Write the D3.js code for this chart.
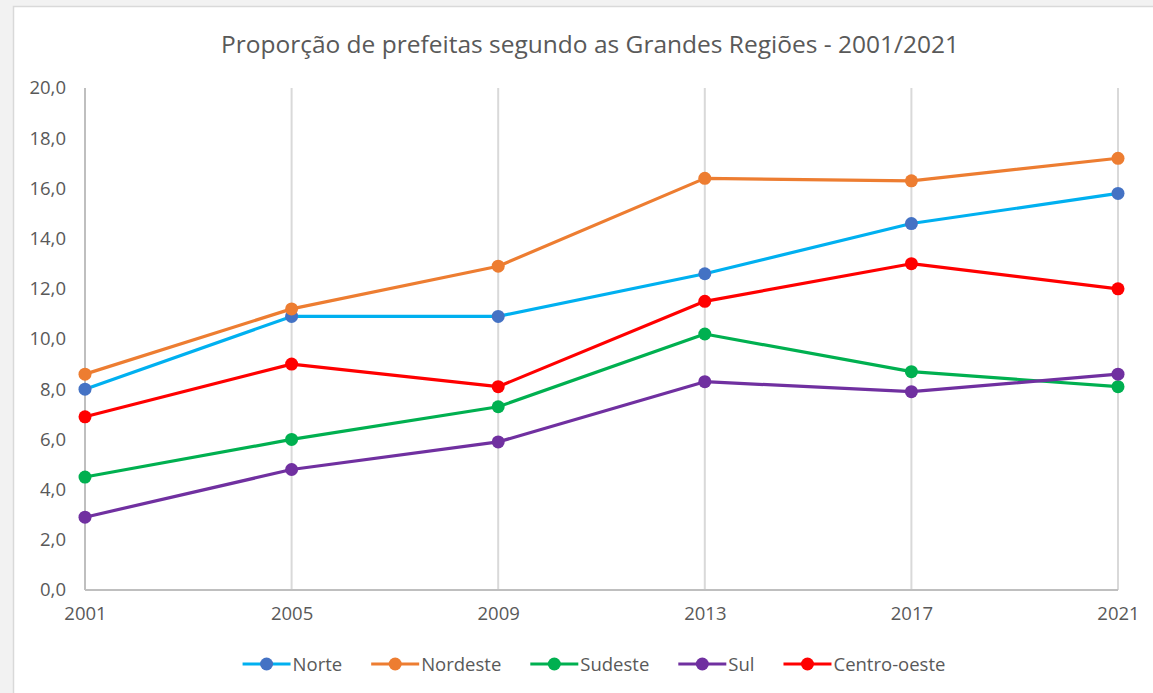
<!DOCTYPE html>
<html>
<head>
<meta charset="utf-8">
<script src="https://cdn.jsdelivr.net/npm/d3@7"></script>
<style>
  body { margin: 0; background: #f2f2f2; }
  svg { display: block; }
  text { font-family: "Open Sans", sans-serif; fill: #595959; }
</style>
</head>
<body>
<svg id="chart"></svg>
<script>
// data
const years = ["2001", "2005", "2009", "2013", "2017", "2021"];
const norte = [8.0, 10.9, 10.9, 12.6, 14.6, 15.8];
const nordeste = [8.6, 11.2, 12.9, 16.4, 16.3, 17.2];
const sudeste = [4.5, 6.0, 7.3, 10.2, 8.7, 8.1];
const sul = [2.9, 4.8, 5.9, 8.3, 7.9, 8.6];
const centroOeste = [6.9, 9.0, 8.1, 11.5, 13.0, 12.0];
const yTicks = [0, 2, 4, 6, 8, 10, 12, 14, 16, 18, 20];
const seriesNames = ["Norte", "Nordeste", "Sudeste", "Sul", "Centro-oeste"];

const series = [
  { name: seriesNames[0], values: norte, line: "#00b0f0", dot: "#4472c4" },
  { name: seriesNames[1], values: nordeste, line: "#ed7d31", dot: "#ed7d31" },
  { name: seriesNames[2], values: sudeste, line: "#00b050", dot: "#00b050" },
  { name: seriesNames[3], values: sul, line: "#7030a0", dot: "#7030a0" },
  { name: seriesNames[4], values: centroOeste, line: "#ff0000", dot: "#ff0000" }
];

const width = 1153, height = 693;
const margin = { top: 88, right: 35, bottom: 103, left: 85 };

const svg = d3.select("#chart").attr("width", width).attr("height", height);

// white chart area with thin frame
svg.append("rect")
  .attr("x", 13.5).attr("y", 6.5)
  .attr("width", width).attr("height", height)
  .attr("fill", "#fff").attr("stroke", "#d9d9d9").attr("stroke-width", 1.5);

const x = d3.scalePoint()
  .domain(years)
  .range([margin.left, width - margin.right]);

const y = d3.scaleLinear()
  .domain([0, 20])
  .range([height - margin.bottom, margin.top]);

// vertical gridlines
svg.append("g")
  .selectAll("line")
  .data(years.slice(1))
  .join("line")
  .attr("x1", d => x(d)).attr("x2", d => x(d))
  .attr("y1", y(20)).attr("y2", y(0))
  .attr("stroke", "#d9d9d9").attr("stroke-width", 2);

// axes
const xAxis = g => g
  .attr("transform", `translate(0,${y(0)})`)
  .call(d3.axisBottom(x).tickSize(0).tickPadding(17))
  .call(g => g.select(".domain").remove())
  .call(g => g.selectAll("text").attr("font-size", 18.5).attr("fill", "#595959"));

const yAxis = g => g
  .attr("transform", `translate(${margin.left},0)`)
  .call(d3.axisLeft(y).tickValues(yTicks).tickSize(0).tickPadding(19)
    .tickFormat(d => d3.format(".1f")(d).replace(".", ",")))
  .call(g => g.select(".domain").remove())
  .call(g => g.selectAll("text").attr("font-size", 18.5).attr("fill", "#595959"));

svg.append("g").call(xAxis).attr("font-family", null);
svg.append("g").call(yAxis).attr("font-family", null);

// axis lines
svg.append("line")
  .attr("x1", x(years[0])).attr("x2", x(years[0]))
  .attr("y1", y(20)).attr("y2", y(0))
  .attr("stroke", "#bfbfbf").attr("stroke-width", 2);
svg.append("line")
  .attr("x1", x(years[0])).attr("x2", x(years[years.length - 1]))
  .attr("y1", y(0)).attr("y2", y(0))
  .attr("stroke", "#bfbfbf").attr("stroke-width", 2);

// lines + markers
const line = d3.line()
  .x((d, i) => x(years[i]))
  .y(d => y(d));

const sg = svg.append("g")
  .selectAll("g")
  .data(series)
  .join("g");

sg.append("path")
  .attr("d", d => line(d.values))
  .attr("fill", "none")
  .attr("stroke", d => d.line)
  .attr("stroke-width", 3.2)
  .attr("stroke-linejoin", "round");

sg.selectAll("circle")
  .data(d => d.values.map((v, i) => ({ v, i, c: d.dot })))
  .join("circle")
  .attr("cx", d => x(years[d.i]))
  .attr("cy", d => y(d.v))
  .attr("r", 6.5)
  .attr("fill", d => d.c);

// title
svg.append("text")
  .attr("x", 590).attr("y", 53)
  .attr("text-anchor", "middle")
  .attr("font-size", 24.5)
  .text("Proporção de prefeitas segundo as Grandes Regiões - 2001/2021");

// legend
const legend = svg.append("g");
let lx = 0;
series.forEach(s => {
  const item = legend.append("g").attr("transform", `translate(${lx},0)`);
  item.append("line").attr("x1", 0).attr("x2", 48).attr("y1", 0).attr("y2", 0)
    .attr("stroke", s.line).attr("stroke-width", 3.2);
  item.append("circle").attr("cx", 24).attr("cy", 0).attr("r", 6.5).attr("fill", s.dot);
  const t = item.append("text").attr("x", 50).attr("y", 6.5).attr("font-size", 18.5).text(s.name);
  lx += 50 + t.node().getComputedTextLength() + 29;
});
const lw = lx - 29;
legend.attr("transform", `translate(${594 - lw / 2},664)`);
</script>
</body>
</html>
